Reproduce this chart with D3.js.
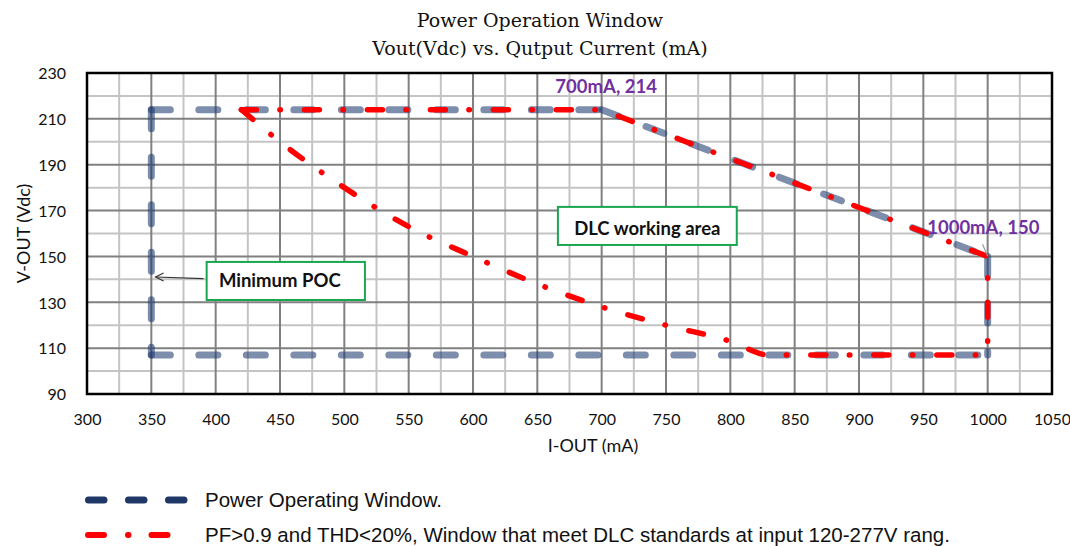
<!DOCTYPE html>
<html><head><meta charset="utf-8">
<script src="https://cdn.jsdelivr.net/npm/d3@7/dist/d3.min.js"></script>
<style>body{margin:0;background:#fff}svg{display:block}</style>
</head><body>
<svg id="c" width="1070" height="546"></svg>
<script>
// ---- data ----
const xTicks = [300,350,400,450,500,550,600,650,700,750,800,850,900,950,1000,1050];
const yTicks = [90,110,130,150,170,190,210,230];
// Power Operating Window (polygon vertices)
const powerI = [350,700,1000,1000,350,350];
const powerV = [214,214,150,107,107,214];
// DLC window: straight edge part
const dlcEdgeI = [420,700,1000,1000];
const dlcEdgeV = [214,214,150,107];
// DLC window: lower curved boundary + bottom
const dlcCurveI = [420,450,500,550,600,650,700,750,800,830,1000];
const dlcCurveV = [214,200,180,163,150,138,128,120,113,107,107];
const titleLines = ["Power Operation Window","Vout(Vdc) vs. Qutput Current (mA)"];
const legendLabels = ["Power Operating Window.","PF>0.9 and THD<20%, Window that meet DLC standards at input 120-277V rang."];

// ---- chart ----
const svg = d3.select('#c');
const x = d3.scaleLinear().domain([300,1050]).range([87,1052]);
const y = d3.scaleLinear().domain([90,230]).range([394,73]);

// grid
const g = svg.append('g');
const minorX = d3.range(325,1050,50), minorY = d3.range(100,230,20);
g.selectAll('.mx').data(minorX).join('line').attr('x1',d=>x(d)).attr('x2',d=>x(d)).attr('y1',y(90)).attr('y2',y(230)).attr('stroke','#c4c4c4').attr('stroke-width',2);
g.selectAll('.my').data(minorY).join('line').attr('y1',d=>y(d)).attr('y2',d=>y(d)).attr('x1',x(300)).attr('x2',x(1050)).attr('stroke','#c4c4c4').attr('stroke-width',2);
g.selectAll('.Mx').data(xTicks.slice(1,-1)).join('line').attr('x1',d=>x(d)).attr('x2',d=>x(d)).attr('y1',y(90)).attr('y2',y(230)).attr('stroke','#808080').attr('stroke-width',2);
g.selectAll('.My').data(yTicks.slice(1,-1)).join('line').attr('y1',d=>y(d)).attr('y2',d=>y(d)).attr('x1',x(300)).attr('x2',x(1050)).attr('stroke','#808080').attr('stroke-width',2);
svg.append('rect').attr('x',x(300)).attr('y',y(230)).attr('width',x(1050)-x(300)).attr('height',y(90)-y(230)).attr('fill','none').attr('stroke','#000').attr('stroke-width',2.5);

// axes
const gx = svg.append('g').attr('transform',`translate(0,${y(90)})`)
  .call(d3.axisBottom(x).tickValues(xTicks).tickSize(0).tickPadding(19.5).tickFormat(d3.format('d')));
gx.select('.domain').remove();
gx.selectAll('text').attr('font-family','Lato').attr('font-size',16).attr('fill','#111');
const gy = svg.append('g').attr('transform',`translate(${x(300)},0)`)
  .call(d3.axisLeft(y).tickValues(yTicks).tickSize(0).tickPadding(21).tickFormat(d3.format('d')));
gy.select('.domain').remove();
gy.selectAll('text').attr('font-family','Lato').attr('font-size',16).attr('fill','#111').attr('dy','0.36em');

// axis titles
svg.append('text').attr('x',593).attr('y',452).attr('text-anchor','middle')
  .attr('font-family','Lato').attr('font-size',18).attr('fill','#111').text('I-OUT (mA)');
svg.append('text').attr('transform',`translate(30,${(y(90)+y(230))/2}) rotate(-90)`).attr('text-anchor','middle')
  .attr('font-family','Lato').attr('font-size',18).attr('fill','#111').text('V-OUT (Vdc)');

// title
svg.selectAll('.title').data(titleLines).join('text')
  .attr('x',540).attr('y',(d,i)=>27+i*28).attr('text-anchor','middle')
  .attr('font-family','DejaVu Serif').attr('font-size',19).attr('fill','#111').text(d=>d);

// ---- series ----
const line = d3.line().x(d=>x(d[0])).y(d=>y(d[1]));
// blue polygon drawn segment by segment (dash restarts at each vertex)
const segs = [];
for (let i=0;i<powerI.length-1;i++){
  let a=[powerI[i],powerV[i]], b=[powerI[i+1],powerV[i+1]];
  if (a[0]>b[0] || (a[0]===b[0] && a[1]<b[1])) [a,b]=[b,a];
  segs.push([a,b]);
}
svg.append('g').selectAll('path').data(segs).join('path')
  .attr('d',line).attr('fill','none').attr('stroke','#1f3a70').attr('stroke-opacity',0.58)
  .attr('stroke-width',7).attr('stroke-linecap','round').attr('stroke-dasharray','19 28.5');

const dlcDash = '15 23.5 0.5 24';
svg.append('path').datum(dlcEdgeI.map((v,i)=>[v,dlcEdgeV[i]]))
  .attr('d',line).attr('fill','none').attr('stroke','#ff0000').attr('stroke-width',5.5)
  .attr('stroke-linecap','round').attr('stroke-linejoin','round').attr('stroke-dasharray',dlcDash);
svg.append('path').datum(dlcCurveI.map((v,i)=>[v,dlcCurveV[i]]))
  .attr('d',d3.line().x(d=>x(d[0])).y(d=>y(d[1])).curve(d3.curveMonotoneX)).attr('fill','none').attr('stroke','#ff0000').attr('stroke-width',5.5)
  .attr('stroke-linecap','round').attr('stroke-linejoin','round').attr('stroke-dasharray',dlcDash);

// ---- annotations ----
// boxes first
svg.append('rect').attr('x',x(666)).attr('y',y(171.6)).attr('width',x(805)-x(666)).attr('height',y(155)-y(171.6))
  .attr('fill','#fff').attr('stroke','#1aa650').attr('stroke-width',2);
svg.append('rect').attr('x',x(393)).attr('y',y(147.6)).attr('width',x(516)-x(393)).attr('height',y(131)-y(147.6))
  .attr('fill','#fff').attr('stroke','#1aa650').attr('stroke-width',2);
// arrow for Minimum POC
const ax1 = x(390.5), ay1 = y(140.3), ax2 = x(353.3), ay2 = y(141);
svg.append('line').attr('x1',ax1).attr('y1',ay1).attr('x2',ax2).attr('y2',ay2).attr('stroke','#333').attr('stroke-width',1.1);
svg.append('path').attr('d',`M${ax2+8},${ay2-4} L${ax2},${ay2} L${ax2+8},${ay2+4}`)
  .attr('fill','none').attr('stroke','#333').attr('stroke-width',1.2);
// leader at 1000mA,150
svg.append('line').attr('x1',x(996)).attr('y1',y(155.3)).attr('x2',x(1000)).attr('y2',y(150.2)).attr('stroke','#999').attr('stroke-width',1.2);

const ann = svg.append('g').attr('font-family','Lato').attr('font-weight','bold').attr('font-size',18.5);
ann.append('text').attr('x',x(664)).attr('y',y(221.4)).attr('fill','#7030a0').text('700mA, 214');
ann.append('text').attr('x',x(953)).attr('y',y(159.8)).attr('fill','#7030a0').text('1000mA, 150');
ann.append('text').attr('x',(x(666)+x(805))/2).attr('y',y(159.2)).attr('text-anchor','middle').attr('fill','#111').text('DLC working area');
ann.append('text').attr('x',x(402.5)).attr('y',y(136.8)).attr('fill','#111').text('Minimum POC');

// ---- legend ----
const lg = svg.append('g');
lg.append('line').attr('x1',88.5).attr('x2',184.5).attr('y1',500).attr('y2',500)
  .attr('stroke','#1f3868').attr('stroke-width',7).attr('stroke-linecap','round').attr('stroke-dasharray','15.5 24.5');
lg.append('line').attr('x1',88).attr('x2',168).attr('y1',535).attr('y2',535)
  .attr('stroke','#ff0000').attr('stroke-width',6).attr('stroke-linecap','round').attr('stroke-dasharray','16 24 0.5 23');
lg.selectAll('text').data(legendLabels).join('text').attr('x',205).attr('y',(d,i)=>507+i*35)
  .attr('font-family','Liberation Sans').attr('font-size',20.5).attr('fill','#111').text(d=>d);
</script>
</body></html>
